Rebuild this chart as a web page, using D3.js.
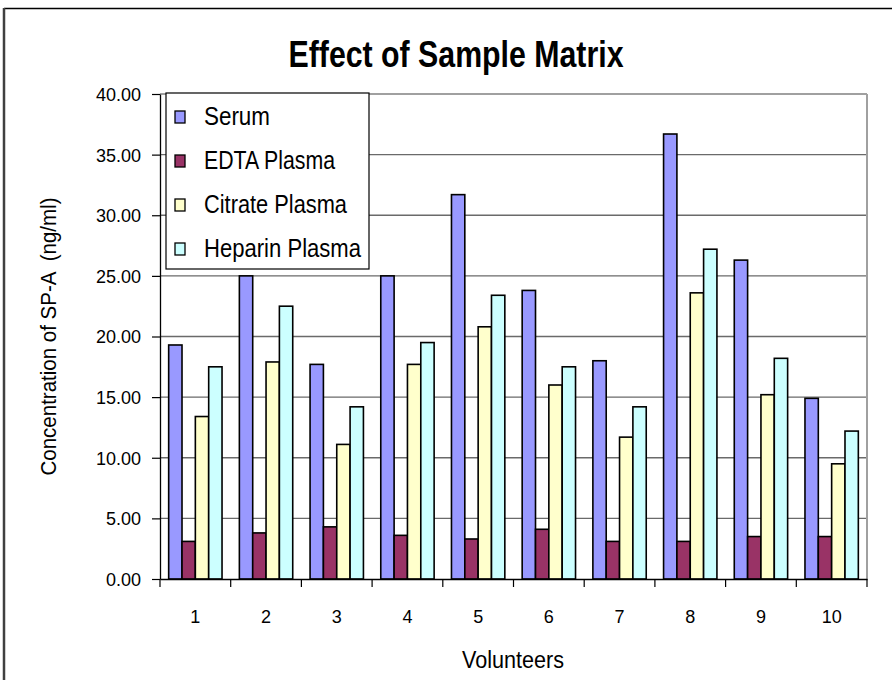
<!DOCTYPE html>
<html>
<head>
<meta charset="utf-8">
<script src="https://cdn.jsdelivr.net/npm/d3@7"></script>
<style>
  body { margin: 0; background: #fff; }
  text { font-family: "Liberation Sans", Arial, sans-serif; fill: #000; }
</style>
</head>
<body>
<div id="chart"></div>
<script>
// Data
const volunteers = ["1", "2", "3", "4", "5", "6", "7", "8", "9", "10"];
const seriesNames = ["Serum", "EDTA Plasma", "Citrate Plasma", "Heparin Plasma"];
const serum   = [19.3, 25.0, 17.7, 25.0, 31.7, 23.8, 18.0, 36.7, 26.3, 14.9];
const edta    = [3.1, 3.8, 4.3, 3.6, 3.3, 4.1, 3.1, 3.1, 3.5, 3.5];
const citrate = [13.4, 17.9, 11.1, 17.7, 20.8, 16.0, 11.7, 23.6, 15.2, 9.5];
const heparin = [17.5, 22.5, 14.2, 19.5, 23.4, 17.5, 14.2, 27.2, 18.2, 12.2];
const yTicks  = [0, 5, 10, 15, 20, 25, 30, 35, 40];

const seriesValues = [serum, edta, citrate, heparin];
const colors = ["#9999FF", "#993366", "#FFFFCC", "#CCFFFF"];

const width = 892, height = 680;
const plot = { left: 160, right: 867, top: 94, bottom: 579 };

const svg = d3.select("#chart").append("svg")
    .attr("width", width)
    .attr("height", height);

// Outer chart frame
svg.append("line").attr("x1", 4).attr("x2", width).attr("y1", 8.5).attr("y2", 8.5)
    .attr("stroke", "#000").attr("stroke-width", 1.5);
svg.append("line").attr("x1", 4).attr("x2", 4).attr("y1", 8).attr("y2", height)
    .attr("stroke", "#404040").attr("stroke-width", 2.5);

// Scales
const x = d3.scaleBand().domain(volunteers).range([plot.left, plot.right]);
const xInner = d3.scaleBand().domain(seriesNames)
    .range([0, x.bandwidth()])
    .paddingInner(0).paddingOuter(0.65);
const y = d3.scaleLinear().domain([0, 40]).range([plot.bottom, plot.top]);

// Gridlines
svg.append("g").selectAll("line")
    .data(yTicks.filter(d => d > 0))
    .enter().append("line")
    .attr("x1", plot.left).attr("x2", plot.right)
    .attr("y1", d => y(d)).attr("y2", d => y(d))
    .attr("stroke", d => d === 40 ? "#a0a0a0" : "#6a6a6a")
    .attr("stroke-width", d => d === 40 ? 2 : 1.3);

// Right border of plot
svg.append("line").attr("x1", plot.right).attr("x2", plot.right)
    .attr("y1", plot.top).attr("y2", plot.bottom)
    .attr("stroke", "#a0a0a0").attr("stroke-width", 2);

// Bars
const groups = svg.append("g").selectAll("g")
    .data(volunteers)
    .enter().append("g")
    .attr("transform", d => `translate(${x(d)},0)`);

groups.selectAll("rect")
    .data((d, i) => seriesNames.map((s, j) => ({ s, v: seriesValues[j][i], c: colors[j] })))
    .enter().append("rect")
    .attr("x", d => xInner(d.s))
    .attr("width", xInner.bandwidth())
    .attr("y", d => y(d.v))
    .attr("height", d => plot.bottom - y(d.v))
    .attr("fill", d => d.c)
    .attr("stroke", "#000")
    .attr("stroke-width", 1.6);

// Y axis
const yAxis = svg.append("g")
    .attr("transform", `translate(${plot.left},0)`)
    .call(d3.axisLeft(y).tickValues(yTicks).tickFormat(d3.format(".2f")).tickSize(8).tickSizeOuter(0).tickPadding(11));
yAxis.select(".domain").attr("stroke", "#000").attr("stroke-width", 1.3);
yAxis.selectAll(".tick line").attr("stroke", "#000").attr("stroke-width", 1.2);
yAxis.selectAll("text").style("font-size", "18px").attr("dy", "0.36em");

// X axis
const xAxis = svg.append("g")
    .attr("transform", `translate(0,${plot.bottom})`)
    .call(d3.axisBottom(x).tickSize(0).tickPadding(31));
xAxis.select(".domain").attr("stroke", "#000").attr("stroke-width", 1.3);
xAxis.selectAll("text").style("font-size", "18px");

// Category boundary ticks
const bounds = volunteers.map(d => x(d)).concat([plot.right]);
svg.append("g").selectAll("line")
    .data(bounds)
    .enter().append("line")
    .attr("x1", d => d).attr("x2", d => d)
    .attr("y1", plot.bottom).attr("y2", plot.bottom + 8)
    .attr("stroke", "#000").attr("stroke-width", 1.2);

// Title
svg.append("text")
    .attr("x", 456).attr("y", 67)
    .attr("text-anchor", "middle")
    .attr("textLength", 335).attr("lengthAdjust", "spacingAndGlyphs")
    .style("font-size", "36px").style("font-weight", "bold")
    .text("Effect of Sample Matrix");

// Axis titles
svg.append("text")
    .attr("x", 513).attr("y", 668)
    .attr("text-anchor", "middle")
    .attr("textLength", 102).attr("lengthAdjust", "spacingAndGlyphs")
    .style("font-size", "23px")
    .text("Volunteers");

svg.append("text")
    .attr("transform", `translate(56,${(plot.top + plot.bottom) / 2}) rotate(-90)`)
    .attr("text-anchor", "middle")
    .attr("textLength", 278).attr("lengthAdjust", "spacingAndGlyphs")
    .style("font-size", "22px")
    .style("white-space", "pre")
    .text("Concentration of SP-A  (ng/ml)");

// Legend
const legend = svg.append("g").attr("transform", "translate(166,93)");
legend.append("rect")
    .attr("width", 203).attr("height", 176)
    .attr("fill", "#fff").attr("stroke", "#000").attr("stroke-width", 1.2);

const legendWidths = [66, 131, 143, 157];
const items = legend.selectAll(".item")
    .data(seriesNames)
    .enter().append("g")
    .attr("class", "item")
    .attr("transform", (d, i) => `translate(9,${32 + i * 44})`);

items.append("rect")
    .attr("x", 0).attr("y", -14)
    .attr("width", 10).attr("height", 12)
    .attr("fill", (d, i) => colors[i])
    .attr("stroke", "#000").attr("stroke-width", 1.3);

items.append("text")
    .attr("x", 29).attr("y", 0)
    .attr("textLength", (d, i) => legendWidths[i]).attr("lengthAdjust", "spacingAndGlyphs")
    .style("font-size", "25px")
    .text(d => d);
</script>
</body>
</html>
